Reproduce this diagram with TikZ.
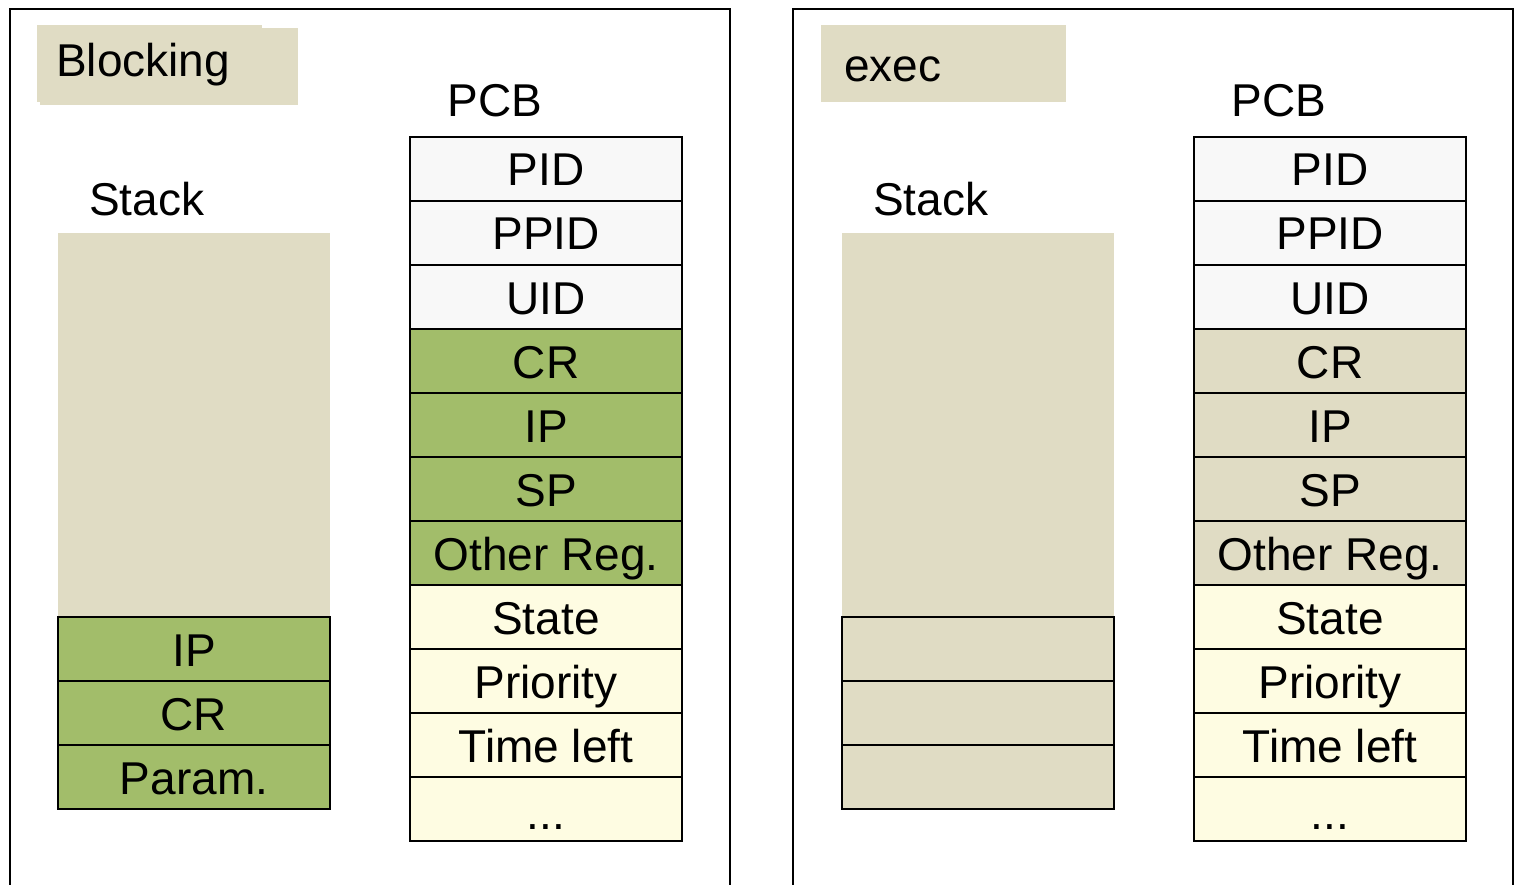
\documentclass[tikz,border=0pt]{standalone}
\usepackage{fontspec}
\setmainfont{Liberation Sans}
\definecolor{beige}{RGB}{224,220,196}
\definecolor{regreen}{RGB}{162,189,106}
\definecolor{cream}{RGB}{254,252,226}
\definecolor{paleg}{RGB}{248,248,248}
\begin{document}
\begin{tikzpicture}[x=1pt,y=-1pt,
  big/.style={font=\fontsize{46}{54}\selectfont},
  cell/.style={big,draw=black,line width=2pt,minimum width=272pt,minimum height=64pt,
    inner sep=0pt,outer sep=0pt,anchor=north west,text height=34pt,text depth=0pt},
  idcell/.style={cell,fill=paleg},
  regcell/.style={cell,fill=regreen},
  regx/.style={cell,fill=beige},
  infocell/.style={cell,fill=cream},
  title/.style={big,inner sep=0pt,anchor=base},
  frame/.style={draw=black,line width=2pt}]
\useasboundingbox (0,0) rectangle (1514,885);
\fill[white] (0,0) rectangle (1514,885);

% ---------- left panel: Blocking ----------
\draw[frame] (10,895) -- (10,9) -- (730,9) -- (730,895);
\fill[beige] (37,25) rectangle (262,102);
\fill[beige] (40,28) rectangle (298,105);
\node[title,anchor=base west] (blk) at (56,77) {Blocking};
\node[title] (pcbA) at (495,117) {PCB};
\node[title,anchor=base west] (stkA) at (89,216) {Stack};
\fill[beige] (58,233) rectangle (330,617);
\node[regcell] (sA1) at (58,617) {IP};
\node[regcell] (sA2) at (58,681) {CR};
\node[regcell] (sA3) at (58,745) {Param.};

\node[idcell]   (pA1)  at (410,137) {PID};
\node[idcell]   (pA2)  at (410,201) {PPID};
\node[idcell]   (pA3)  at (410,265) {UID};
\node[regcell]  (pA4)  at (410,329) {CR};
\node[regcell]  (pA5)  at (410,393) {IP};
\node[regcell]  (pA6)  at (410,457) {SP};
\node[regcell]  (pA7)  at (410,521) {Other Reg.};
\node[infocell] (pA8)  at (410,585) {State};
\node[infocell] (pA9)  at (410,649) {Priority};
\node[infocell] (pA10) at (410,713) {Time left};
\node[infocell] (pA11) at (410,777) {};
\node[title] (dotsA) at (546,829) {...};

% ---------- right panel: exec ----------
\draw[frame] (793,895) -- (793,9) -- (1513,9) -- (1513,895);
\fill[beige] (821,25) rectangle (1066,102);
\node[title,anchor=base west] (exe) at (844,82) {exec};
\node[title] (pcbB) at (1279,117) {PCB};
\node[title,anchor=base west] (stkB) at (873,216) {Stack};
\fill[beige] (842,233) rectangle (1114,617);
\node[regx] (sB1) at (842,617) {};
\node[regx] (sB2) at (842,681) {};
\node[regx] (sB3) at (842,745) {};

\node[idcell]   (pB1)  at (1194,137) {PID};
\node[idcell]   (pB2)  at (1194,201) {PPID};
\node[idcell]   (pB3)  at (1194,265) {UID};
\node[regx]     (pB4)  at (1194,329) {CR};
\node[regx]     (pB5)  at (1194,393) {IP};
\node[regx]     (pB6)  at (1194,457) {SP};
\node[regx]     (pB7)  at (1194,521) {Other Reg.};
\node[infocell] (pB8)  at (1194,585) {State};
\node[infocell] (pB9)  at (1194,649) {Priority};
\node[infocell] (pB10) at (1194,713) {Time left};
\node[infocell] (pB11) at (1194,777) {};
\node[title] (dotsB) at (1330,829) {...};
\end{tikzpicture}
\end{document}
